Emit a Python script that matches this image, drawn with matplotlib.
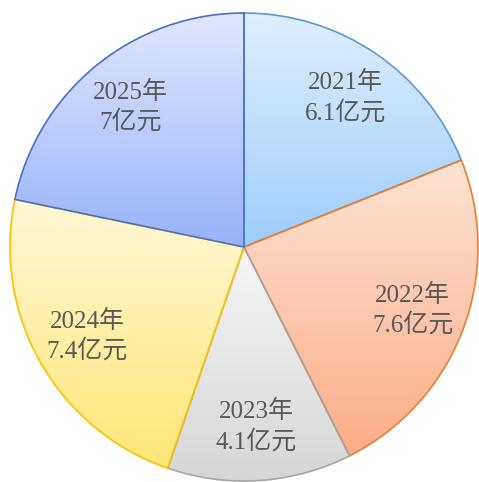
import numpy as np
import matplotlib.pyplot as plt
from matplotlib.colors import LinearSegmentedColormap

plt.rcParams['font.family'] = ['Liberation Serif', 'Noto Sans CJK SC']

# 数据
years = ['2021年', '2022年', '2023年', '2024年', '2025年']
values = [6.1, 7.6, 4.1, 7.4, 7.0]
value_text = ['6.1', '7.6', '4.1', '7.4', '7']
edge_colors = ['#5b9bd5', '#ed7d31', '#a5a5a5', '#ffc000', '#4472c4']
top_colors = ['#e0efff', '#fde3d4', '#f6f6f6', '#fff8d6', '#e1e7ff']
bottom_colors = ['#9ccdfa', '#fbad86', '#d6d6d6', '#ffe677', '#98b2fb']

labels = [f'{y}\n{v}亿元' for y, v in zip(years, value_text)]

fig = plt.figure(figsize=(4.79, 4.82), dpi=100)
ax = fig.add_axes([0, 0, 1, 1])
r_px = 234.0
cx, cy = 244.0, 247.0

wedges, texts = ax.pie(values, labels=labels, startangle=90, counterclock=False,
                       radius=1.0, labeldistance=0.77,
                       textprops=dict(color='#595959', fontsize=18, ha='center',
                                      va='center', linespacing=1.32),
                       wedgeprops=dict(linewidth=1.2))

# 渐变填充
for w, ec, tc, bc in zip(wedges, edge_colors, top_colors, bottom_colors):
    w.set_edgecolor(ec)
    w.set_facecolor('none')
    w.set_zorder(3)
    ext = w.get_path().get_extents()
    cmap = LinearSegmentedColormap.from_list('g', [bc, tc])
    grad = np.linspace(0, 1, 256).reshape(-1, 1)
    im = ax.imshow(grad, cmap=cmap, origin='lower', aspect='auto',
                   extent=[ext.x0, ext.x1, ext.y0, ext.y1], zorder=2,
                   interpolation='bilinear')
    im.set_clip_path(w)

for t in texts:
    t.set_zorder(5)
    t.set_multialignment('center')

ax.set_xlim(-cx / r_px, (479 - cx) / r_px)
ax.set_ylim(-(482 - cy) / r_px, cy / r_px)
ax.set_aspect('auto')
ax.axis('off')

plt.savefig('out.png', dpi=100)
